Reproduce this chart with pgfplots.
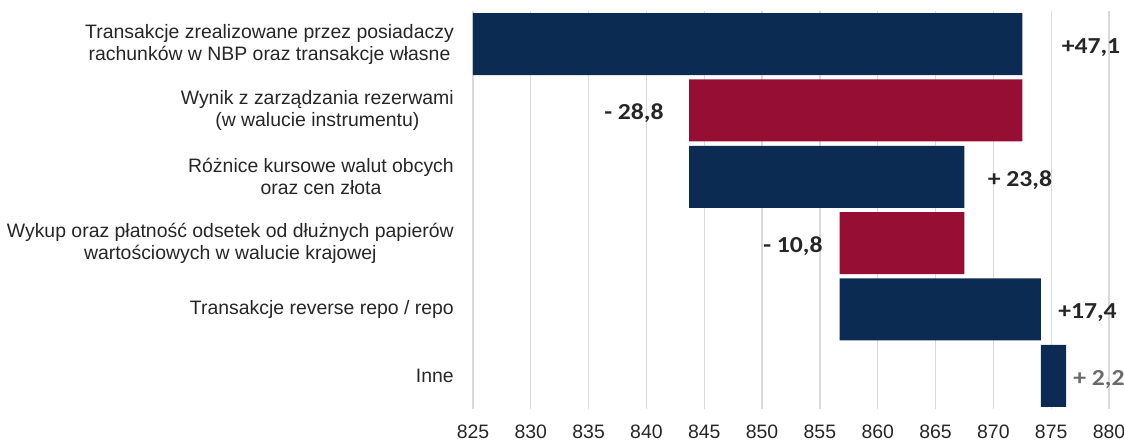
\documentclass[border=0pt]{standalone}
\usepackage{fontspec}
\setmainfont{Liberation Sans}
\newfontfamily\valfont{Carlito}[FakeStretch=1.12]
\usepackage{pgfplots}
\usepackage{pgfplotstable}
\pgfplotsset{compat=1.18}
\definecolor{nbpnavy}{HTML}{0C2B52}
\definecolor{nbpred}{HTML}{970E34}
\definecolor{gridgray}{HTML}{DADADA}
\definecolor{txtcol}{HTML}{262626}
\definecolor{valgray}{HTML}{6B6B6B}
\tikzset{val/.style={inner sep=0pt, text=txtcol,
    font={\fontsize{23}{26}\valfont\bfseries}}}

% waterfall: invisible base + positive / negative steps (rows from bottom)
\pgfplotstableread{
row base   pos  neg
1   874.1  2.2  0
2   856.7  17.4 0
3   856.7  0    10.8
4   843.7  23.8 0
5   843.7  0    28.8
6   825.0  47.5 0
}\wfdata

\begin{document}
\begin{tikzpicture}
\begin{axis}[
  scale only axis, width=636bp, height=398bp,
  at={(0,0)}, anchor=south west,
  xbar stacked, bar width=62bp,
  xmin=825, xmax=880, ymin=0.5, ymax=6.5,
  xtick={825,830,...,880},
  ytick={1,...,6},
  yticklabels={
    {Inne},
    {Transakcje reverse repo / repo},
    {Wykup oraz płatność odsetek od dłużnych papierów\\wartościowych w walucie krajowej},
    {Różnice kursowe walut obcych\\oraz cen złota},
    {Wynik z zarządzania rezerwami\\(w walucie instrumentu)},
    {Transakcje zrealizowane przez posiadaczy\\rachunków w NBP oraz transakcje własne}},
  axis line style={draw=none},
  major tick length=0pt,
  xmajorgrids, grid style={gridgray, line width=1.3bp},
  yticklabel style={align=center, font={\fontsize{19.5}{22}\selectfont},
    text=txtcol, inner sep=0pt, anchor=east, xshift=-19bp},
  xticklabel style={font={\fontsize{19.5}{22}\selectfont}, text=txtcol,
    inner sep=0pt, anchor=north, yshift=-16bp},
  /pgf/number format/assume math mode=true,
  clip=false,
]
\addplot[draw=none, fill=none] table[x=base, y=row] {\wfdata};
\addplot[draw=none, fill=nbpnavy] table[x=pos, y=row] {\wfdata};
\addplot[draw=none, fill=nbpred] table[x=neg, y=row] {\wfdata};

\node[val, anchor=base west] at (axis cs:875.9,5.86) {+47,1};
\node[val, anchor=base east] at (axis cs:841.5,4.86) {- 28,8};
\node[val, anchor=base west] at (axis cs:869.5,3.86) {+ 23,8};
\node[val, anchor=base east] at (axis cs:855.25,2.86) {- 10,8};
\node[val, anchor=base west] at (axis cs:875.6,1.86) {+17,4};
\node[val, anchor=base west, text=valgray] at (axis cs:876.9,0.86) {+ 2,2};
\end{axis}
\pgfresetboundingbox
\path[use as bounding box] (-473bp,-32bp) rectangle (651bp,409bp);
\end{tikzpicture}
\end{document}
